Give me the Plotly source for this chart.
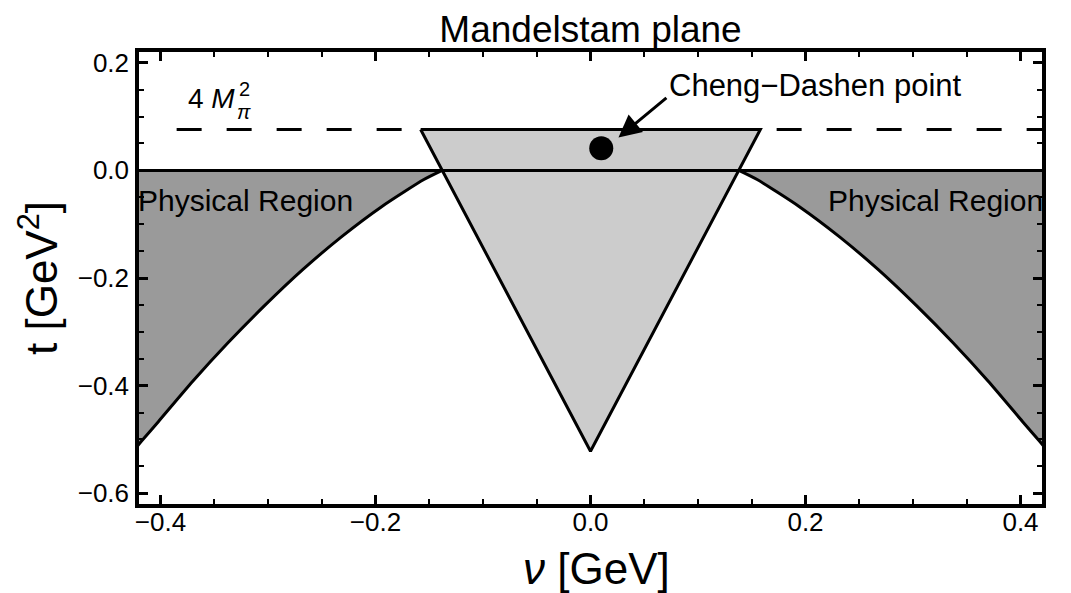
import plotly.graph_objects as go

# ---- data ----
four_mpi2 = 0.076                      # t = 4 M_pi^2 threshold (GeV^2)
tri_nu = [-0.158, 0.158, 0.0, -0.158]  # Mandelstam triangle vertices
tri_t = [0.076, 0.076, -0.522, 0.076]
phys_nu = [0.138, 0.155, 0.194, 0.232, 0.268, 0.303, 0.337, 0.370, 0.402, 0.418, 0.430]
phys_t = [0.000, -0.017, -0.067, -0.124, -0.185, -0.251, -0.320, -0.392, -0.467, -0.504, -0.532]
cd_nu = [0.010]
cd_t = [0.041]
x_ticks = [-0.4, -0.2, 0.0, 0.2, 0.4]
y_ticks = [-0.6, -0.4, -0.2, 0.0, 0.2]

FONT = "Liberation Sans, Arial, sans-serif"
DARK = "#9a9a9a"
LIGHT = "#cccccc"

W, H = 1071, 593
L, R, T, B = 131, 37, 44, 97
pw, ph = W - L - R, H - T - B
X0, X1 = -0.42, 0.42
Y0, Y1 = -0.62, 0.22


def px_x(px):
    return (px - L) / pw


def px_y(py):
    return 1 - (py - T) / ph


fig = go.Figure()

# physical regions (filled)
for sgn in (1, -1):
    xs = [sgn * v for v in phys_nu] + [sgn * 0.5, sgn * 0.5, sgn * phys_nu[0]]
    ys = phys_t + [phys_t[-1], 0.0, 0.0]
    fig.add_trace(go.Scatter(x=xs, y=ys, mode="lines", fill="toself",
                             fillcolor=DARK, line=dict(width=0, color=DARK),
                             hoverinfo="skip", showlegend=False))

# triangle
fig.add_trace(go.Scatter(x=tri_nu, y=tri_t, mode="lines", fill="toself",
                         fillcolor=LIGHT, line=dict(color="black", width=3),
                         hoverinfo="skip", showlegend=False))

# boundary curves
for sgn in (1, -1):
    fig.add_trace(go.Scatter(x=[sgn * v for v in phys_nu], y=phys_t, mode="lines",
                             line=dict(color="black", width=3, shape="spline",
                                       smoothing=0.6),
                             hoverinfo="skip", showlegend=False))

# t = 0 line
fig.add_trace(go.Scatter(x=[-0.5, 0.5], y=[0, 0], mode="lines",
                         line=dict(color="black", width=3),
                         hoverinfo="skip", showlegend=False))
# 4 M_pi^2 dashed line
fig.add_trace(go.Scatter(x=[-0.385, 0.5], y=[four_mpi2, four_mpi2], mode="lines",
                         line=dict(color="black", width=3, dash="25px,25px"),
                         hoverinfo="skip", showlegend=False))
# Cheng-Dashen point
fig.add_trace(go.Scatter(x=cd_nu, y=cd_t, mode="markers",
                         marker=dict(color="black", size=24),
                         hoverinfo="skip", showlegend=False))

ann = []
# arrow
ann.append(dict(x=0.026, y=0.061, ax=0.072, ay=0.137, xref="x", yref="y",
                axref="x", ayref="y", text="", showarrow=True, arrowhead=2,
                arrowsize=1.5, arrowwidth=3, arrowcolor="black"))
ann.append(dict(x=0.071, y=0.157, xref="x", yref="y", text="Cheng\u2212Dashen point",
                showarrow=False, xanchor="left", yanchor="middle",
                font=dict(family=FONT, size=31, color="black")))
ann.append(dict(x=px_x(L), y=-0.056, xref="paper", yref="y", xshift=-3,
                text="Physical Region",
                showarrow=False, xanchor="left", yanchor="middle",
                font=dict(family=FONT, size=30, color="black")))
ann.append(dict(x=px_x(W - R), y=-0.056, xref="paper", yref="y", xshift=3,
                text="Physical Region",
                showarrow=False, xanchor="right", yanchor="middle",
                font=dict(family=FONT, size=30, color="black")))
# 4 M_pi^2 label
ann.append(dict(x=-0.376, y=0.133, xref="x", yref="y", text="4 <i>M</i>",
                showarrow=False, xanchor="left", yanchor="middle",
                font=dict(family=FONT, size=28, color="black")))
ann.append(dict(x=-0.322, y=0.109, xref="x", yref="y", text="<i>\u03c0</i>",
                showarrow=False, xanchor="center", yanchor="middle",
                font=dict(family=FONT, size=20, color="black")))
ann.append(dict(x=-0.322, y=0.151, xref="x", yref="y", text="2",
                showarrow=False, xanchor="center", yanchor="middle",
                font=dict(family=FONT, size=20, color="black")))
# axis titles
ann.append(dict(x=px_x(588), y=px_y(587), xref="paper", yref="paper",
                text="<i>\u03bd</i> [GeV]",
                showarrow=False, xanchor="center", yanchor="bottom",
                font=dict(family=FONT, size=44, color="black")))
ann.append(dict(x=px_x(30), y=px_y(270), xref="paper", yref="paper",
                text="t [GeV<sup>2</sup>]",
                showarrow=False, xanchor="center", yanchor="middle", textangle=-90,
                font=dict(family=FONT, size=44, color="black")))

fig.update_layout(
    width=W, height=H,
    margin=dict(l=L, r=R, t=T, b=B),
    paper_bgcolor="white", plot_bgcolor="white",
    annotations=ann,
    title=dict(text="Mandelstam plane", x=(L + pw / 2) / W, xanchor="center",
               y=1 - 21 / H, yanchor="middle", yref="container",
               font=dict(family=FONT, size=37, color="black")),
    xaxis=dict(range=[X0, X1], tickvals=x_ticks, tickformat=".1f",
               ticks="inside", ticklen=9, tickwidth=2.5, tickcolor="black",
               showline=True, linecolor="black", linewidth=3.5, mirror="allticks",
               showgrid=False, zeroline=False, ticklabelstandoff=-8,
               minor=dict(ticks="inside", dtick=0.05, tick0=0, ticklen=5,
                          tickwidth=2, tickcolor="black", showgrid=False),
               tickfont=dict(family=FONT, size=26, color="black")),
    yaxis=dict(range=[Y0, Y1], tickvals=y_ticks, tickformat=".1f",
               ticks="inside", ticklen=9, tickwidth=2.5, tickcolor="black",
               showline=True, linecolor="black", linewidth=3.5, mirror="allticks",
               showgrid=False, zeroline=False, ticklabelstandoff=1,
               minor=dict(ticks="inside", dtick=0.05, tick0=0, ticklen=5,
                          tickwidth=2, tickcolor="black", showgrid=False),
               tickfont=dict(family=FONT, size=26, color="black")),
)

fig.write_html("out.html")
